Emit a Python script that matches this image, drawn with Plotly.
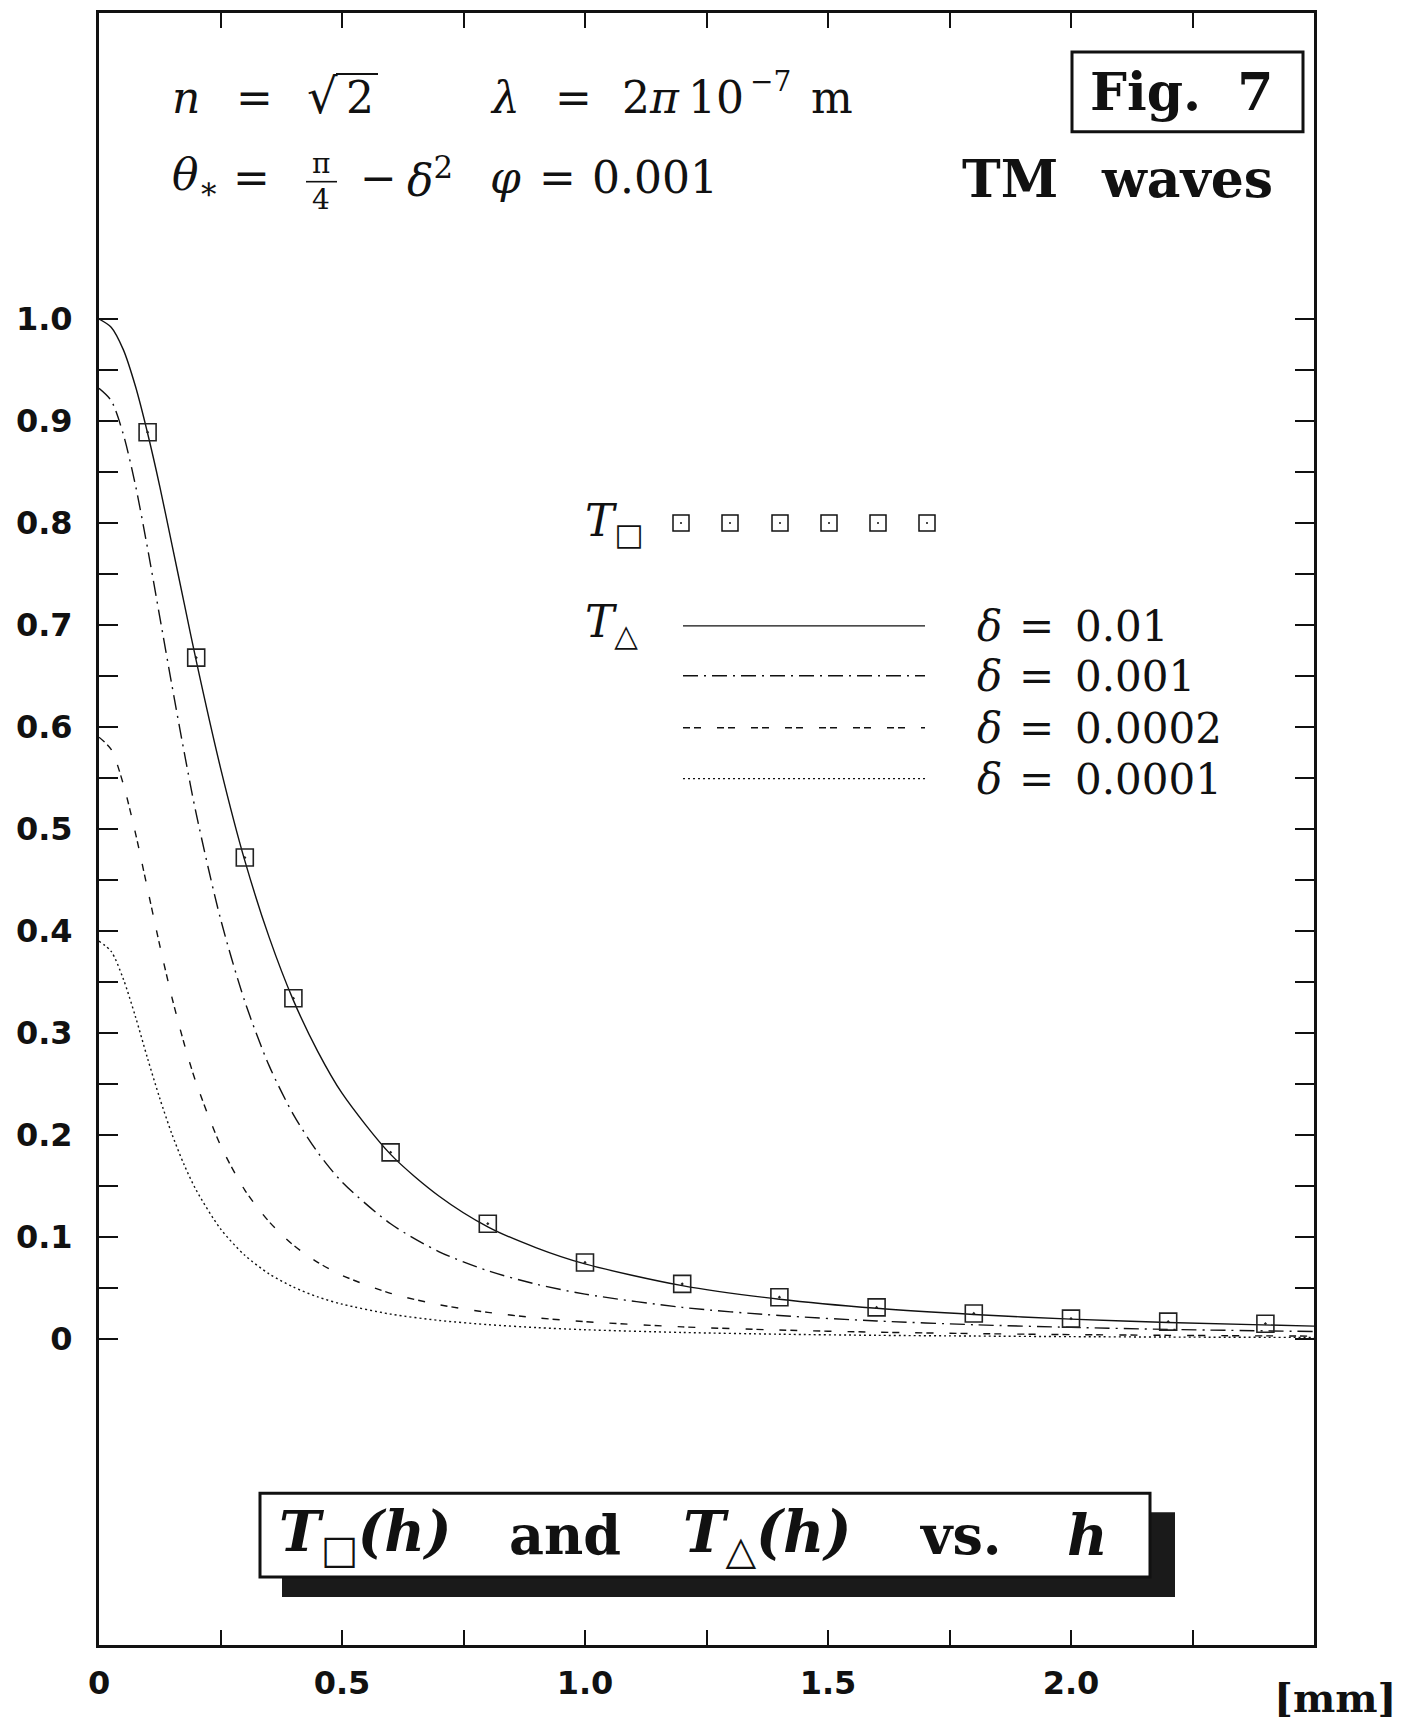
import plotly.graph_objects as go

# ---------------- data ----------------
h_mm = [0, 0.025, 0.05, 0.075, 0.1, 0.125, 0.15, 0.175, 0.2, 0.25, 0.3, 0.35, 0.4,
        0.45, 0.5, 0.6, 0.7, 0.8, 0.9, 1.0, 1.2, 1.4, 1.6, 1.8, 2.0, 2.2, 2.5]

t_tri_d01 = [1.000, 0.992, 0.970, 0.934, 0.888, 0.836, 0.779, 0.722, 0.665, 0.560, 0.469,
             0.394, 0.332, 0.282, 0.241, 0.181, 0.140, 0.110, 0.0894, 0.0736, 0.0523,
             0.0390, 0.0301, 0.0240, 0.0195, 0.0162, 0.0126]
t_tri_d001 = [0.932, 0.920, 0.887, 0.837, 0.775, 0.708, 0.641, 0.576, 0.515, 0.412, 0.331,
              0.268, 0.220, 0.183, 0.154, 0.113, 0.0855, 0.0669, 0.0537, 0.0440, 0.0310,
              0.0230, 0.0177, 0.0140, 0.0114, 0.0094, 0.0073]
t_tri_d0002 = [0.590, 0.578, 0.544, 0.496, 0.441, 0.386, 0.335, 0.290, 0.251, 0.190, 0.146,
               0.115, 0.092, 0.0752, 0.0624, 0.0448, 0.0336, 0.0261, 0.0208, 0.0170, 0.0119,
               0.0088, 0.0067, 0.0053, 0.0043, 0.0036, 0.0028]
t_tri_d0001 = [0.390, 0.380, 0.353, 0.316, 0.275, 0.236, 0.201, 0.171, 0.146, 0.108, 0.0821,
               0.0639, 0.0509, 0.0413, 0.0342, 0.0244, 0.0182, 0.0141, 0.0112, 0.0091, 0.0064,
               0.0047, 0.0036, 0.0029, 0.0023, 0.0019, 0.0015]

sq_h = [0.1, 0.2, 0.3, 0.4, 0.6, 0.8, 1.0, 1.2, 1.4, 1.6, 1.8, 2.0, 2.2, 2.4]
sq_t = [0.889, 0.668, 0.472, 0.334, 0.183, 0.113, 0.075, 0.054, 0.041, 0.031, 0.025,
        0.020, 0.017, 0.015]

delta_labels = ["0.01", "0.001", "0.0002", "0.0001"]

x_tick_vals = [0, 0.25, 0.5, 0.75, 1.0, 1.25, 1.5, 1.75, 2.0, 2.25]
x_tick_text = ["0", "", "0.5", "", "1.0", "", "1.5", "", "2.0", ""]
y_tick_vals = [0, 0.05, 0.1, 0.15, 0.2, 0.25, 0.3, 0.35, 0.4, 0.45, 0.5, 0.55, 0.6, 0.65,
               0.7, 0.75, 0.8, 0.85, 0.9, 0.95, 1.0]
y_tick_text = ["0", "", "0.1", "", "0.2", "", "0.3", "", "0.4", "", "0.5", "", "0.6", "",
               "0.7", "", "0.8", "", "0.9", "", "1.0"]

# ---------------- styling ----------------
W, H = 1403, 1721
L, R, T, B = 99, 1314, 10, 1645
SERIF = "DejaVu Serif"
SANS = "DejaVu Sans"
INK = "#111111"

dash_styles = ["solid", "15px,6px,2px,6px", "7px,4px,7px,16px", "2px,3px"]


def px(x):
    return (x - L) / (R - L)


def py(y):
    return (B - y) / (B - T)


fig = go.Figure()

series = [t_tri_d01, t_tri_d001, t_tri_d0002, t_tri_d0001]
for vals, dash in zip(series, dash_styles):
    fig.add_trace(go.Scatter(
        x=h_mm, y=vals, mode="lines",
        line=dict(color=INK, width=1.4, dash=dash, shape="spline", smoothing=0.8),
        showlegend=False, hoverinfo="skip"))

fig.add_trace(go.Scatter(
    x=sq_h, y=sq_t, mode="markers",
    marker=dict(symbol="square-open-dot", size=17, color="#222222",
                line=dict(width=1.6, color="#222222")),
    showlegend=False, hoverinfo="skip"))

shapes = []
annotations = []


def ann(text, x, y, size, family=SERIF, xanchor="center", yanchor="middle"):
    annotations.append(dict(text=text, x=px(x), y=py(y), xref="paper", yref="paper",
                            xanchor=xanchor, yanchor=yanchor, showarrow=False,
                            font=dict(family=family, size=size, color=INK)))


def rect(x0, y0, x1, y1, fill=None, lw=3):
    shapes.append(dict(type="rect", xref="paper", yref="paper",
                       x0=px(x0), x1=px(x1), y0=py(y1), y1=py(y0),
                       line=dict(color=INK, width=lw),
                       fillcolor=fill if fill else "rgba(0,0,0,0)"))


def hline(x0, x1, y, dash="solid", lw=1.4):
    shapes.append(dict(type="line", xref="paper", yref="paper",
                       x0=px(x0), x1=px(x1), y0=py(y), y1=py(y),
                       line=dict(color=INK, width=lw, dash=dash)))


# ---- top-left parameters, line 1 ----
Y1, Y2, FS = 95, 175, 44
ann("<i>n</i>", 170, Y1, FS, xanchor="left")
ann("=", 254, Y1, FS)
ann("√", 322, Y1 - 2, FS + 4)
ann("2", 360, Y1, FS)
hline(336, 378, 71, lw=2)  # radical bar
ann("<i>λ</i>", 488, Y1, FS, xanchor="left")
ann("=", 573, Y1, FS)
ann("2<i>π</i>", 651, Y1, FS)
ann("10", 716, Y1, FS)
ann("−7", 771, 79, 28)
ann("m", 832, Y1, FS)

# ---- line 2 ----
ann("<i>θ</i><sub>∗</sub>", 170, Y2, FS, xanchor="left")
ann("=", 251, Y2, FS)
ann("π", 321, 161, 28)
ann("4", 321, 197, 28)
hline(306, 337, 179, lw=1.6)
ann("−", 378, Y2, FS)
ann("<i>δ</i><sup>2</sup>", 405, Y2, FS, xanchor="left")
ann("<i>φ</i>", 488, Y2, FS, xanchor="left")
ann("=", 557, Y2, FS)
ann("0.001", 655, Y2, FS)

# ---- Fig. 7 box and TM waves ----
rect(1072, 49, 1303, 129, lw=3)
ann("<b>Fig.\u00a0\u00a07</b>", 1182, 89, 52)
ann("<b>TM</b>", 1010, 176, 52)
ann("<b>waves</b>", 1187, 176, 52)

# ---- legend ----
ann("<i>T</i><sub>□</sub>", 583, 521, 44, xanchor="left")
ann("<i>T</i><sub>△</sub>", 583, 623, 44, xanchor="left")
sq_legend_x = [681, 730, 780, 829, 878, 927]
for cx in sq_legend_x:
    rect(cx - 8, 513, cx + 8, 529, lw=1.5)
    shapes.append(dict(type="circle", xref="paper", yref="paper",
                       x0=px(cx - 1), x1=px(cx + 1), y0=py(522), y1=py(520),
                       line=dict(width=0), fillcolor=INK))
leg_rows = [624, 674, 726, 777]
for yy, dash, lab in zip(leg_rows, dash_styles, delta_labels):
    hline(683, 925, yy, dash=dash, lw=1.4)
    ann("<i>δ</i>", 975, yy + 1, 42, xanchor="left")
    ann("=", 1036, yy + 1, 42)
    ann(lab, 1073, yy + 1, 42, xanchor="left")

# ---- bottom title box with shadow ----
rect(282, 1512, 1175, 1597, fill="#1a1a1a", lw=0)
rect(260, 1493, 1150, 1577, fill="white", lw=3)
ann("<b><i>T</i></b><sub>□</sub><b><i>(h)</i></b>", 365, 1535, 56)
ann("<b>and</b>", 565, 1535, 54)
ann("<b><i>T</i></b><sub>△</sub><b><i>(h)</i></b>", 767, 1535, 57)
ann("<b>vs.</b>", 961, 1535, 54)
ann("<b><i>h</i></b>", 1087, 1535, 56)

# ---- unit ----
ann("<b>[mm]</b>", 1335, 1698, 40)

axis_common = dict(showline=True, linewidth=3, linecolor=INK, mirror="ticks",
                   ticks="inside", tickwidth=2.2, tickcolor=INK,
                   showgrid=False, zeroline=False, tickmode="array")

fig.update_layout(
    width=W, height=H,
    margin=dict(l=L, r=W - R, t=T, b=H - B, pad=0),
    paper_bgcolor="white", plot_bgcolor="white",
    xaxis=dict(range=[0, 2.5], tickvals=x_tick_vals, ticktext=x_tick_text, ticklen=15,
               tickfont=dict(family=SANS, size=32, color=INK, weight="bold"),
               ticklabelstandoff=8, **axis_common),
    yaxis=dict(range=[-0.3, 1.3], tickvals=y_tick_vals, ticktext=y_tick_text, ticklen=19,
               tickfont=dict(family=SANS, size=32, color=INK, weight="bold"),
               ticklabelstandoff=17, **axis_common),
    shapes=shapes,
    annotations=annotations,
    showlegend=False,
)

fig.write_html("out.html", config={"displayModeBar": False},
               post_script="document.body.style.margin='0';document.body.style.overflow='hidden';")
